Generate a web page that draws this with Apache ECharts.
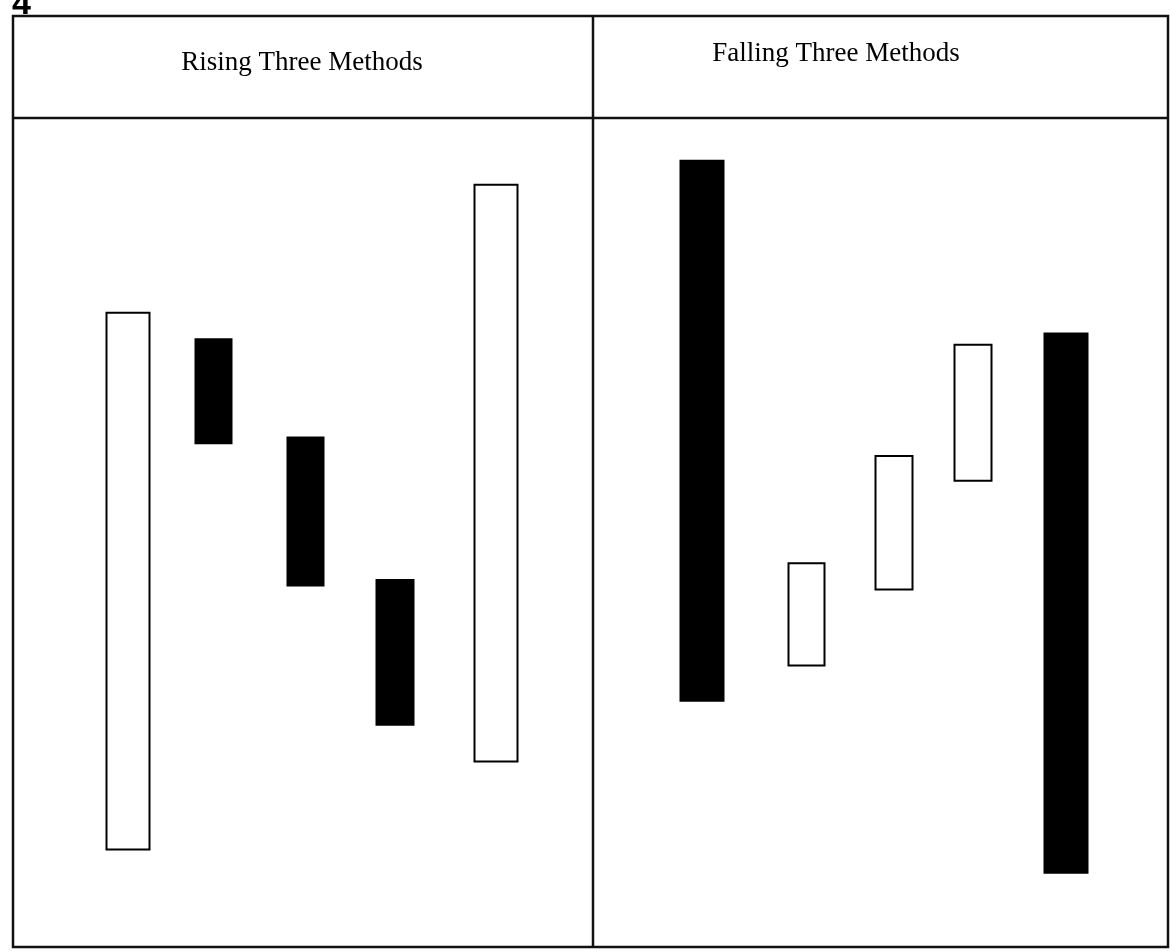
<!DOCTYPE html>
<html>
<head>
<meta charset="utf-8">
<script src="https://cdn.jsdelivr.net/npm/echarts@6/dist/echarts.min.js"></script>
<style>
html,body{margin:0;padding:0;background:#fff;}
#chart{width:1172px;height:951px;}
</style>
</head>
<body>
<div id="chart"></div>
<script>
// Panel titles
var panelTitles = ['Rising Three Methods', 'Falling Three Methods'];
var figureNumber = '4';

// Session positions of each candle (as drawn, slightly irregular spacing)
var risingPos  = [1, 1.93, 2.93, 3.9, 5];
var fallingPos = [1, 2.15, 3.11, 3.98, 5];

// Candle bodies: open and close (no wicks shown)
var risingOpen  = [12.3, 76.1, 63.8, 46.0, 23.3];
var risingClose = [79.4, 63.1, 45.3, 27.9, 95.4];
var fallingOpen  = [98.4, 35.3, 44.8, 58.4, 76.8];
var fallingClose = [30.9, 48.1, 61.5, 75.4,  9.4];

// Which candles are the long "bracketing" candles of each pattern
var longCandle = [true, false, false, false, true];

function toCandles(pos, open, close, wantLong) {
  var out = [];
  pos.forEach(function (x, i) {
    if (longCandle[i] !== wantLong) return;
    var o = open[i], c = close[i];
    out.push([x, o, c, Math.min(o, c), Math.max(o, c)]);
  });
  return out;
}

var chart = echarts.init(document.getElementById('chart'));

var candleStyle = {
  color: '#ffffff',
  color0: '#000000',
  borderColor: '#000000',
  borderColor0: '#000000',
  borderWidth: 2
};

function hiddenAxis(extra) {
  return Object.assign({
    axisLine: { show: false },
    axisTick: { show: false },
    axisLabel: { show: false },
    splitLine: { show: false }
  }, extra);
}

function candleSeries(name, gi, pos, open, close, wantLong) {
  return {
    name: name, type: 'candlestick', xAxisIndex: gi, yAxisIndex: gi,
    barWidth: wantLong ? 43 : 37,
    itemStyle: candleStyle,
    encode: { x: 0, y: [1, 2, 3, 4] },
    data: toCandles(pos, open, close, wantLong)
  };
}

var lineStyle = { stroke: '#111', lineWidth: 2.5 };

chart.setOption({
  backgroundColor: '#ffffff',
  animation: false,
  grid: [
    { left: 82, width: 460, top: 148, height: 800 },
    { left: 656.5, width: 455, top: 148, height: 800 }
  ],
  xAxis: [
    hiddenAxis({ type: 'value', gridIndex: 0, min: 0.5, max: 5.5 }),
    hiddenAxis({ type: 'value', gridIndex: 1, min: 0.5, max: 5.5 })
  ],
  yAxis: [
    hiddenAxis({ type: 'value', gridIndex: 0, min: 0, max: 100 }),
    hiddenAxis({ type: 'value', gridIndex: 1, min: 0, max: 100 })
  ],
  series: [
    candleSeries(panelTitles[0], 0, risingPos, risingOpen, risingClose, true),
    candleSeries(panelTitles[0], 0, risingPos, risingOpen, risingClose, false),
    candleSeries(panelTitles[1], 1, fallingPos, fallingOpen, fallingClose, true),
    candleSeries(panelTitles[1], 1, fallingPos, fallingOpen, fallingClose, false)
  ],
  graphic: [
    { type: 'rect', shape: { x: 13, y: 16, width: 1155, height: 931 }, style: { fill: 'none', stroke: '#111', lineWidth: 2.5 } },
    { type: 'line', shape: { x1: 13, y1: 118, x2: 1168, y2: 118 }, style: lineStyle },
    { type: 'line', shape: { x1: 593, y1: 16, x2: 593, y2: 947 }, style: lineStyle },
    { type: 'text', x: 302, y: 63, style: { text: panelTitles[0], font: '27px "Liberation Serif"', fill: '#000', textAlign: 'center', textVerticalAlign: 'middle' } },
    { type: 'text', x: 836, y: 54, style: { text: panelTitles[1], font: '27px "Liberation Serif"', fill: '#000', textAlign: 'center', textVerticalAlign: 'middle' } },
    { type: 'text', x: 12, y: 5, style: { text: figureNumber, font: 'bold 34px "Liberation Sans"', fill: '#000', textAlign: 'left', textVerticalAlign: 'middle' } }
  ]
});
</script>
</body>
</html>
